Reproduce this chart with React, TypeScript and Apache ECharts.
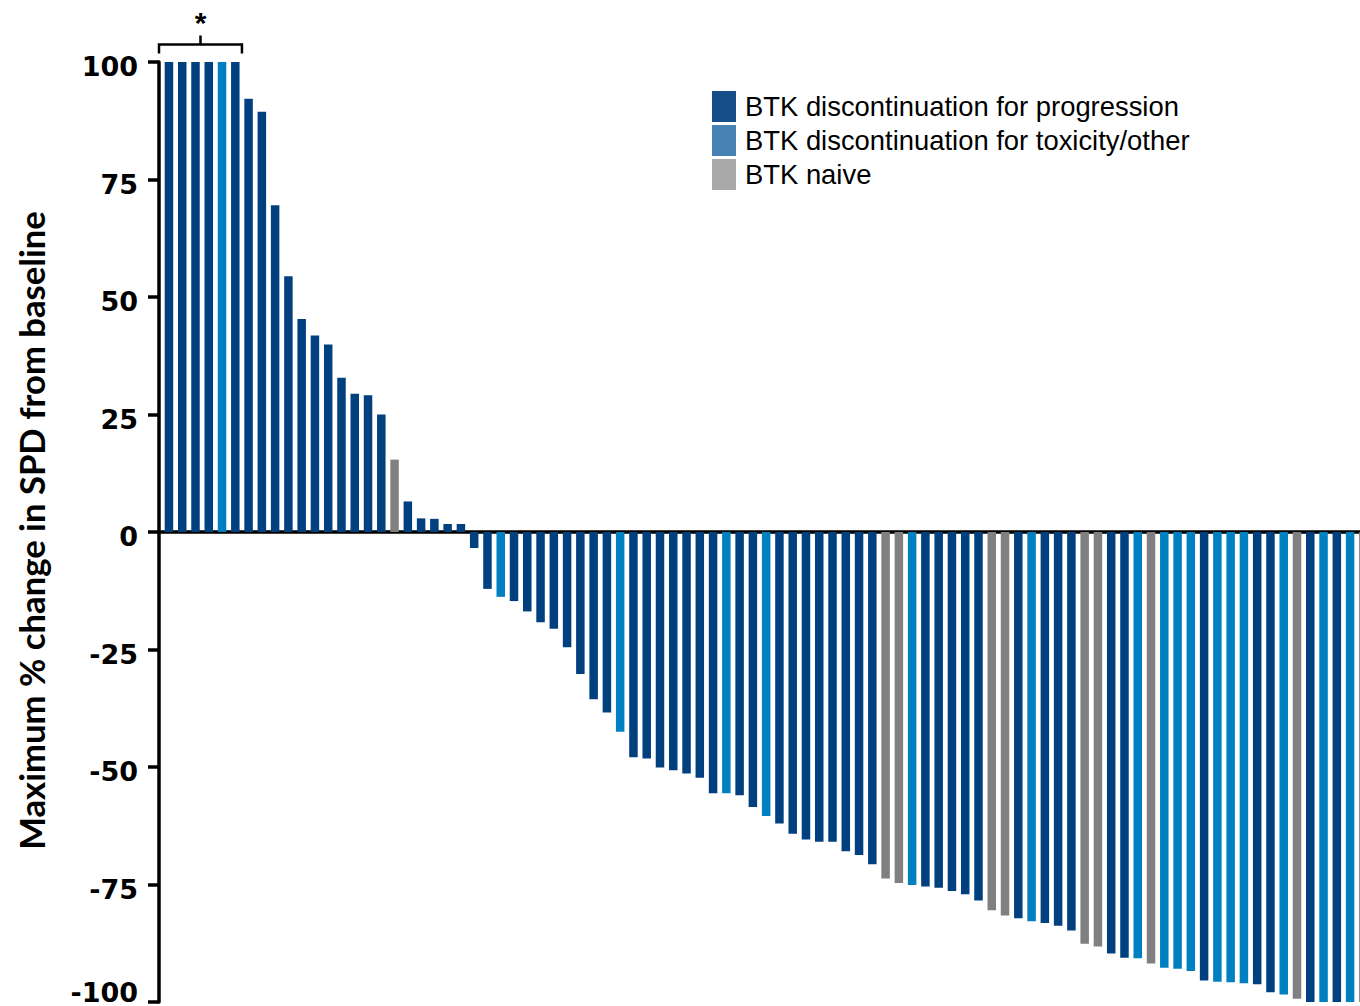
import React, { useEffect, useRef } from "react";
import * as echarts from "echarts";

// Patient index (one bar per patient, sorted by response)
const patients: number[] = Array.from({ length: 91 }, (_, i) => i);

// Maximum % change in SPD from baseline, read from the waterfall
const values: number[] = [
  100, 100, 100, 100, 100, 100, 92.2, 89.4, 69.5, 54.4,
  45.3, 41.8, 39.9, 32.8, 29.4, 29.1, 25.0, 15.4, 6.5, 2.9,
  2.8, 1.7, 1.7, -3.4, -12.1, -13.8, -14.7, -16.9, -19.2, -20.6,
  -24.5, -30.2, -35.6, -38.4, -42.5, -47.9, -48.2, -50.1, -50.7, -51.4,
  -52.3, -55.6, -55.6, -56.0, -58.5, -60.4, -62.0, -64.2, -65.4, -65.9,
  -65.9, -67.9, -68.7, -70.7, -73.7, -74.7, -75.1, -75.4, -75.7, -76.4,
  -77.1, -78.4, -80.5, -81.6, -82.2, -82.8, -83.2, -83.8, -84.8, -87.6,
  -88.2, -89.7, -90.6, -90.7, -91.8, -92.7, -92.9, -93.4, -95.4, -95.7,
  -95.8, -96.0, -96.2, -97.9, -98.4, -99.3, -100, -100, -100, -100,
  -100,
];

// Group per patient: 0 = progression, 1 = toxicity/other, 2 = naive
const groups: number[] = [
  0, 0, 0, 0, 1, 0, 0, 0, 0, 0,
  0, 0, 0, 0, 0, 0, 0, 2, 0, 0,
  0, 0, 0, 0, 0, 1, 0, 0, 0, 0,
  0, 0, 0, 0, 1, 0, 0, 0, 0, 0,
  0, 0, 1, 0, 0, 1, 0, 0, 0, 0,
  0, 0, 0, 0, 2, 2, 1, 0, 0, 0,
  0, 0, 2, 2, 0, 1, 0, 0, 0, 2,
  2, 0, 0, 1, 2, 1, 1, 1, 0, 1,
  1, 1, 0, 0, 1, 2, 0, 1, 0, 1,
  2,
];

const groupNames: string[] = [
  "BTK discontinuation for progression",
  "BTK discontinuation for toxicity/other",
  "BTK naive",
];

const barColors: string[] = ["#00407F", "#0080C0", "#808080"];
const legendColors: string[] = ["#164E8A", "#4682B4", "#A9A9A9"];

const yMin = -100;
const yMax = 100;
const yInterval = 25;
const yAxisTitle = "Maximum % change in SPD from baseline";
const bracketLabel = "*";
const bracketFirst = 0;
const bracketLast = 5;

const titleFont = "Lato, 'Liberation Sans', sans-serif";

function fitFontSize(text: string, family: string, targetWidth: number): number {
  try {
    const ctx = document.createElement("canvas").getContext("2d");
    if (!ctx) return 32;
    ctx.font = `bold 30px ${family}`;
    const w = ctx.measureText(text).width;
    if (!w) return 32;
    return (30 * targetWidth) / w;
  } catch (e) {
    return 32;
  }
}

export default function App() {
  const ref = useRef<HTMLDivElement>(null);

  useEffect(() => {
    if (!ref.current) return;
    const chart = echarts.init(ref.current, null, { renderer: "svg" });

    const series = groupNames.map((name, g) => ({
      name,
      type: "bar",
      barWidth: 8.5,
      barGap: "-100%",
      itemStyle: { color: barColors[g] },
      data: patients
        .filter((i) => groups[i] === g)
        .map((i) => [i, values[i]]),
    }));

    const labelStyle = {
      fontFamily: "'DejaVu Sans', Verdana, sans-serif",
      fontWeight: "bold",
      fontSize: 27,
      color: "#000",
    };

    chart.setOption({
      animation: false,
      backgroundColor: "#ffffff",
      grid: {
        left: 159,
        right: -10,
        top: 62,
        bottom: 4,
        containLabel: false,
        outerBoundsMode: "none",
      },
      legend: {
        orient: "vertical",
        left: 712,
        top: 91,
        padding: 0,
        itemWidth: 24,
        itemHeight: 31,
        itemGap: 3,
        icon: "rect",
        selectedMode: false,
        data: groupNames.map((n, g) => ({ name: n, itemStyle: { color: legendColors[g] } })),
        textStyle: {
          fontFamily: "'Liberation Sans', Arial, sans-serif",
          fontSize: 27.4,
          color: "#000",
          padding: [0, 0, 0, 4],
        },
      },
      xAxis: {
        type: "value",
        min: -0.75,
        max: 90.5,
        axisLine: { show: true, onZero: true, lineStyle: { color: "#000", width: 3.5 } },
        axisTick: { show: false },
        axisLabel: { show: false },
        splitLine: { show: false },
      },
      yAxis: {
        type: "value",
        min: yMin,
        max: yMax,
        interval: yInterval,
        axisLine: { show: true, onZero: false, lineStyle: { color: "#000", width: 3.5 } },
        axisTick: { show: true, length: 11, lineStyle: { color: "#000", width: 3.5 } },
        axisLabel: {
          margin: 21,
          formatter: (v: number) => (v === yMin ? `{low|${v}}` : `{n|${v}}`),
          rich: {
            n: { ...labelStyle, padding: [9, 0, 0, 0] },
            low: { ...labelStyle, padding: [0, 0, 20, 0] },
          },
        },
        splitLine: { show: false },
      },
      series,
    });

    const xL = chart.convertToPixel({ xAxisIndex: 0 }, bracketFirst - 0.75) as number;
    const xR = chart.convertToPixel({ xAxisIndex: 0 }, bracketLast + 0.5) as number;
    const yTop = chart.convertToPixel({ yAxisIndex: 0 }, yMax) as number;
    const yBot = chart.convertToPixel({ yAxisIndex: 0 }, yMin) as number;
    const yH = yTop - 17.5;
    const xC = (xL + xR) / 2;
    const titleSize = fitFontSize(yAxisTitle, titleFont, 639);

    chart.setOption({
      graphic: [
        {
          type: "polyline",
          shape: { points: [[xL, yH + 9], [xL, yH], [xR, yH], [xR, yH + 9]] },
          style: { stroke: "#000", lineWidth: 2.5, fill: "none" },
        },
        {
          type: "line",
          shape: { x1: xC, y1: yH, x2: xC, y2: yH - 9 },
          style: { stroke: "#000", lineWidth: 2.5 },
        },
        {
          type: "text",
          x: xC,
          y: yH - 37,
          style: {
            text: bracketLabel,
            fontFamily: "'Liberation Sans', Arial, sans-serif",
            fontWeight: "bold",
            fontSize: 30,
            fill: "#000",
            align: "center",
            verticalAlign: "top",
          },
        },
        {
          type: "text",
          x: 31,
          y: (yTop + yBot) / 2 - 1.5,
          rotation: Math.PI / 2,
          style: {
            text: yAxisTitle,
            fontFamily: titleFont,
            fontWeight: "bold",
            fontSize: titleSize,
            fill: "#000",
            align: "center",
            verticalAlign: "middle",
          },
        },
      ],
    });

    return () => chart.dispose();
  }, []);

  return (
    <div
      ref={ref}
      style={{ position: "fixed", left: 0, top: 0, width: 1360, height: 1006, background: "#fff" }}
    />
  );
}
